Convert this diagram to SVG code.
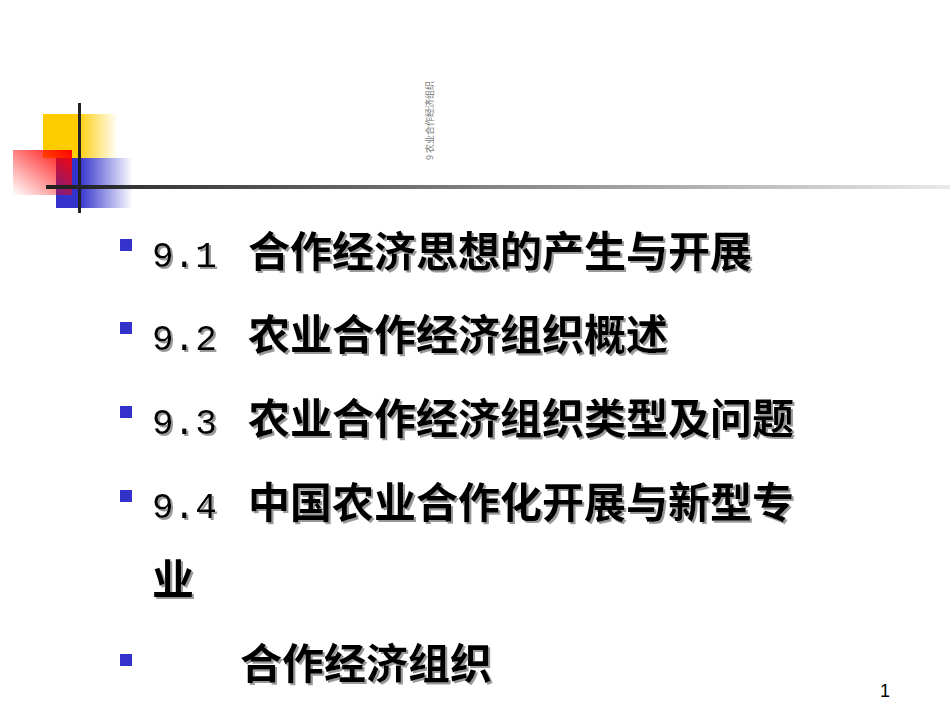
<svg xmlns="http://www.w3.org/2000/svg" width="950" height="713" viewBox="0 0 950 713">
<defs>
<linearGradient id="gy" x1="0" x2="1" y1="0" y2="0"><stop offset="0.45" stop-color="#ffcc00"/><stop offset="1" stop-color="#ffcc00" stop-opacity="0"/></linearGradient>
<linearGradient id="gb" x1="0" x2="1" y1="0" y2="0"><stop offset="0.3" stop-color="#3333cc"/><stop offset="1" stop-color="#3333cc" stop-opacity="0"/></linearGradient>
<linearGradient id="gr" x1="1" x2="0" y1="0" y2="1"><stop offset="0" stop-color="#ff0000"/><stop offset="1" stop-color="#ff0000" stop-opacity="0"/></linearGradient>
<linearGradient id="gl" x1="0" x2="1" y1="0" y2="0"><stop offset="0" stop-color="#222"/><stop offset="1" stop-color="#222" stop-opacity="0.1"/></linearGradient>
<filter id="sh" x="-5%" y="-20%" width="110%" height="140%"><feDropShadow dx="2" dy="2" stdDeviation="0" flood-color="#999"/></filter>
<style>
.t{font-family:"Noto Sans CJK SC",sans-serif;font-size:42px;font-weight:bold;fill:#000}
.n{font-family:"Liberation Mono",monospace;font-size:36px;font-weight:normal}
.b{fill:#3333cc}
</style>
</defs>
<g id="deco">
<rect x="43" y="114" width="75" height="44" fill="url(#gy)"/>
<rect x="56" y="158" width="77" height="50" fill="url(#gb)"/>
<rect x="13" y="150" width="59" height="45" fill="url(#gr)"/>
<rect x="78" y="103" width="3" height="110" fill="#222"/>
<rect x="46" y="185" width="904" height="4" fill="url(#gl)"/>
</g>
<text transform="translate(433,160) rotate(-90)" font-family="Noto Sans CJK SC,sans-serif" font-size="9" fill="#777">9  农业合作经济组织</text>
<g id="items">
<rect class="b" x="120" y="239" width="12" height="12"/>
<rect class="b" x="120" y="322" width="12" height="12"/>
<rect class="b" x="120" y="406" width="12" height="12"/>
<rect class="b" x="120" y="490" width="12" height="12"/>
<rect class="b" x="120" y="654" width="12" height="12"/>
<g filter="url(#sh)">
<text class="t" x="152" y="267"><tspan class="n">9.1</tspan><tspan x="248">合作经济思想的产生与开展</tspan></text>
<text class="t" x="152" y="350"><tspan class="n">9.2</tspan><tspan x="248">农业合作经济组织概述</tspan></text>
<text class="t" x="152" y="434"><tspan class="n">9.3</tspan><tspan x="248">农业合作经济组织类型及问题</tspan></text>
<text class="t" x="152" y="518"><tspan class="n">9.4</tspan><tspan x="248">中国农业合作化开展与新型专</tspan></text>
<text class="t" x="152" y="595">业</text>
<text class="t" x="240" y="679">合作经济组织</text>
</g>
</g>
<text x="880" y="697" font-family="Liberation Sans,sans-serif" font-size="18" fill="#000">1</text>
</svg>
